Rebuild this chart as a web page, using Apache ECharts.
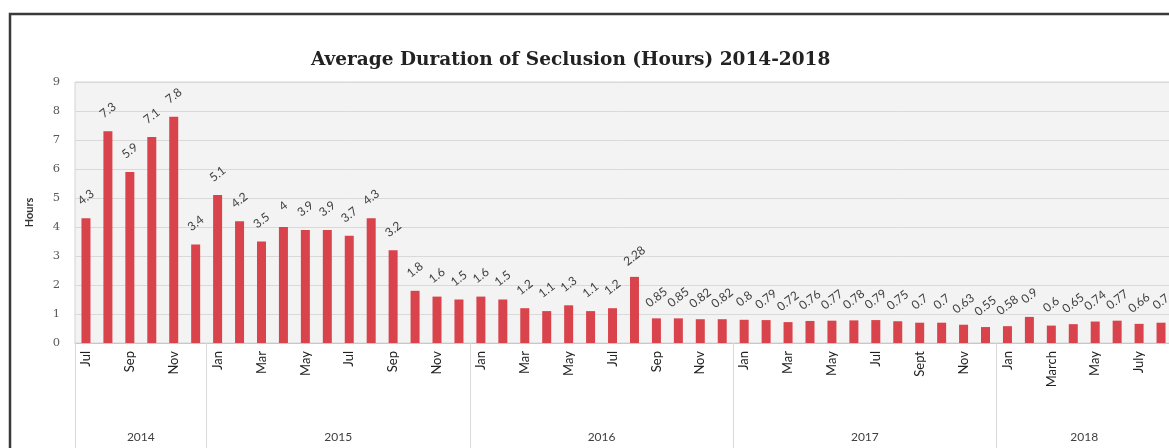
<!DOCTYPE html>
<html>
<head>
<meta charset="utf-8">
<script src="https://cdn.jsdelivr.net/npm/echarts@6/dist/echarts.min.js"></script>
<style>
    html, body { margin: 0; padding: 0; background: #fff; overflow: hidden; }
    #chart { width: 1200px; height: 448px; }
</style>
</head>
<body>
<div id="chart"></div>
<script>
// 数据：每年的月份和对应的平均隔离时长（小时）
var years = ['2014', '2015', '2016', '2017', '2018'];
var months2014 = ['Jul', 'Aug', 'Sep', 'Oct', 'Nov', 'Dec'];
var months2015 = ['Jan', 'Feb', 'Mar', 'Apr', 'May', 'Jun', 'Jul', 'Aug', 'Sep', 'Oct', 'Nov', 'Dec'];
var months2016 = ['Jan', 'Feb', 'Mar', 'Apr', 'May', 'Jun', 'Jul', 'Aug', 'Sep', 'Oct', 'Nov', 'Dec'];
var months2017 = ['Jan', 'Feb', 'Mar', 'Apr', 'May', 'Jun', 'Jul', 'Aug', 'Sept', 'Oct', 'Nov', 'Dec'];
var months2018 = ['Jan', 'Feb', 'March', 'April', 'May', 'June', 'July', 'Aug'];

var hours2014 = [4.3, 7.3, 5.9, 7.1, 7.8, 3.4];
var hours2015 = [5.1, 4.2, 3.5, 4, 3.9, 3.9, 3.7, 4.3, 3.2, 1.8, 1.6, 1.5];
var hours2016 = [1.6, 1.5, 1.2, 1.1, 1.3, 1.1, 1.2, 2.28, 0.85, 0.85, 0.82, 0.82];
var hours2017 = [0.8, 0.79, 0.72, 0.76, 0.77, 0.78, 0.79, 0.75, 0.7, 0.7, 0.63, 0.55];
var hours2018 = [0.58, 0.9, 0.6, 0.65, 0.74, 0.77, 0.66, 0.7];

var yTicks = [0, 1, 2, 3, 4, 5, 6, 7, 8, 9];

var monthGroups = [months2014, months2015, months2016, months2017, months2018];
var hourGroups = [hours2014, hours2015, hours2016, hours2017, hours2018];

// 拼接成一条类目轴
var months = [];
var hours = [];
var bounds = [0];
var centers = [];
monthGroups.forEach(function (m, i) {
    var start = months.length;
    months = months.concat(m);
    hours = hours.concat(hourGroups[i]);
    bounds.push(months.length);
    centers.push((start + months.length) / 2);
});
var total = months.length;

var chart = echarts.init(document.getElementById('chart'));
var option = {
    animation: false,
    title: {
        text: 'Average Duration of Seclusion (Hours) 2014-2018',
        left: 306,
        top: 46,
        textStyle: {
            fontFamily: 'DejaVu Serif',
            fontWeight: 'bold',
            fontSize: 18.5,
            color: '#222'
        }
    },
    graphic: [{
        type: 'rect',
        shape: { x: 10, y: 14, width: 1400, height: 600 },
        style: { fill: 'none', stroke: '#3a3a3a', lineWidth: 2.5 },
        silent: true
    }],
    grid: {
        left: 75,
        top: 82,
        right: 28,
        bottom: 105,
        show: true,
        backgroundColor: '#f3f3f3',
        borderColor: '#d4d4d4',
        borderWidth: 1
    },
    xAxis: [{
        type: 'category',
        data: months,
        axisLine: { lineStyle: { color: '#c8c8c8' } },
        axisTick: { show: false },
        axisLabel: {
            interval: 1,
            rotate: 90,
            margin: 8,
            fontFamily: 'Lato',
            fontSize: 13,
            color: '#222'
        }
    }, {
        type: 'value',
        min: 0,
        max: total,
        position: 'bottom',
        axisLine: { show: false },
        splitLine: { show: false },
        axisTick: {
            show: true,
            customValues: bounds,
            length: 110,
            lineStyle: { color: '#d9d9d9' }
        },
        axisLabel: {
            customValues: centers,
            margin: 88,
            fontFamily: 'Lato',
            fontSize: 12,
            color: '#404040',
            formatter: function (v) {
                return years[centers.indexOf(v)];
            }
        }
    }],
    yAxis: {
        type: 'value',
        min: yTicks[0],
        max: yTicks[yTicks.length - 1],
        interval: 1,
        name: 'Hours',
        nameLocation: 'middle',
        nameGap: 40,
        nameTextStyle: {
            fontFamily: 'Lato',
            fontWeight: 'bold',
            fontSize: 11,
            color: '#333'
        },
        axisLine: { show: false },
        axisTick: { show: false },
        axisLabel: {
            margin: 15,
            fontFamily: 'DejaVu Serif',
            fontSize: 11.5,
            color: '#595959'
        },
        splitLine: { lineStyle: { color: '#d9d9d9' } }
    },
    series: [{
        name: 'Hours',
        type: 'bar',
        xAxisIndex: 0,
        data: hours,
        barWidth: 9,
        itemStyle: { color: '#d9434b' },
        label: {
            show: true,
            position: 'top',
            distance: 21,
            rotate: 38,
            align: 'center',
            verticalAlign: 'middle',
            fontFamily: 'Lato',
            fontSize: 12,
            color: '#404040'
        }
    }]
};
chart.setOption(option);
</script>
</body>
</html>
